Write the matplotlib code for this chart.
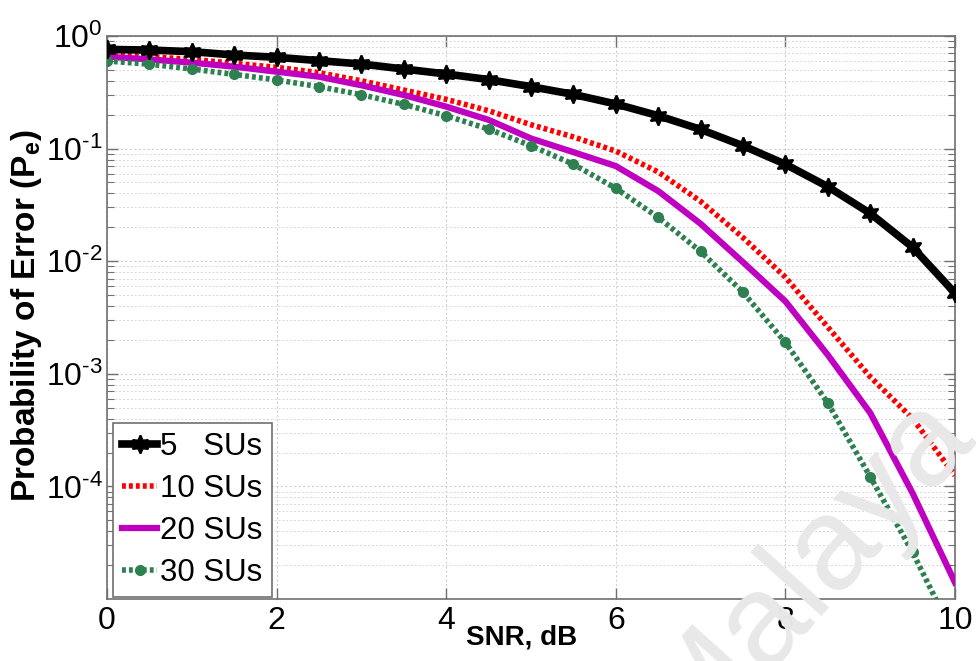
import numpy as np
import matplotlib
matplotlib.use("Agg")
import matplotlib.pyplot as plt
from matplotlib.ticker import LogLocator, FixedLocator, FixedFormatter, NullFormatter

plt.rcParams['font.family'] = ['Liberation Sans', 'DejaVu Sans']
plt.rcParams['mathtext.fontset'] = 'custom'
plt.rcParams['mathtext.rm'] = 'Liberation Sans'
plt.rcParams['mathtext.bf'] = 'Liberation Sans:bold'

# ---------------- data ----------------
snr_db = [0, 0.5, 1, 1.5, 2, 2.5, 3, 3.5, 4, 4.5, 5, 5.5, 6, 6.5, 7, 7.5, 8, 8.5, 9, 9.5, 10]
pe_5 = [0.76, 0.75, 0.726, 0.678, 0.647, 0.604, 0.564, 0.509, 0.46, 0.41, 0.355, 0.303,
        0.249, 0.196, 0.148, 0.106, 0.0726, 0.0459, 0.0266, 0.0133, 0.0052]
pe_10 = [0.69, 0.655, 0.62, 0.572, 0.527, 0.472, 0.40, 0.331, 0.274, 0.217, 0.163, 0.127,
         0.095, 0.062, 0.034, 0.0162, 0.0072, 0.0026, 9.4e-4, 4.0e-4, 1.25e-4]
pe_20 = [0.655, 0.62, 0.58, 0.534, 0.482, 0.435, 0.365, 0.299, 0.236, 0.18, 0.123, 0.093,
         0.07, 0.042, 0.0215, 0.0098, 0.0044, 1.47e-3, 4.5e-4, 8.7e-5, 1.4e-5]
pe_30 = [0.60, 0.562, 0.509, 0.456, 0.407, 0.355, 0.301, 0.247, 0.196, 0.149, 0.106, 0.0726,
         0.0444, 0.0245, 0.0122, 0.0053, 0.0019, 5.5e-4, 1.22e-4, 2.6e-5, 4.5e-6]
labels = ["5   SUs", "10 SUs", "20 SUs", "30 SUs"]
x_ticks = [0, 2, 4, 6, 8, 10]
y_ticks = [1e0, 1e-1, 1e-2, 1e-3, 1e-4]
y_tick_labels = [r'$\mathdefault{10^{0}}$', r'$\mathdefault{10^{\text{-}1}}$',
                 r'$\mathdefault{10^{\text{-}2}}$', r'$\mathdefault{10^{\text{-}3}}$',
                 r'$\mathdefault{10^{\text{-}4}}$']

# ---------------- figure ----------------
W, H = 976, 661
fig = plt.figure(figsize=(W / 100, H / 100), dpi=100)
L, R, T, B = 107, 955, 36, 599
ax = fig.add_axes([L / W, 1 - B / H, (R - L) / W, (B - T) / H])

ax.plot(snr_db, pe_5, color='black', lw=5.5, marker=(6, 1, 0), ms=13, mew=1.5,
        label=labels[0], zorder=5)
ax.plot(snr_db, pe_10, color='#ff0000', lw=4, dashes=(0.7, 0.55), dash_capstyle='butt',
        label=labels[1], zorder=4)
ax.plot(snr_db, pe_20, color='#c000c0', lw=4.5, label=labels[2], zorder=4)
ax.plot(snr_db, pe_30, color='#2e8050', lw=4, dashes=(0.7, 0.55), dash_capstyle='butt',
        marker='o', ms=7, label=labels[3], zorder=4)

ax.set_yscale('log')
ax.set_xlim(0, 10)
ax.set_ylim(1e-5, 1)
ax.xaxis.set_major_locator(FixedLocator(x_ticks))
ax.yaxis.set_major_locator(FixedLocator(y_ticks))
ax.yaxis.set_major_formatter(FixedFormatter(y_tick_labels))
ax.yaxis.set_minor_locator(LogLocator(base=10, subs=np.arange(2, 10), numticks=20))
ax.yaxis.set_minor_formatter(NullFormatter())

ax.grid(True, which='major', axis='both', color='#d0d0d0', ls=(0, (2, 2)), lw=0.8)
ax.grid(True, which='minor', axis='y', color='#d8d8d8', ls=(0, (2, 2)), lw=0.7)
ax.set_axisbelow(True)

for s in ax.spines.values():
    s.set_color('#707070')
    s.set_linewidth(1.2)
ax.tick_params(which='both', direction='in', top=True, right=True, colors='#707070',
               labelcolor='black', labelsize=23)
ax.tick_params(which='major', length=8, width=1)
ax.tick_params(which='minor', length=5, width=0.8)
ax.tick_params(axis='x', pad=5)
ax.tick_params(axis='y', pad=3)

# x label placed as in the reference
ax.set_xlabel('SNR, dB', fontsize=20, fontweight='bold')
ax.xaxis.set_label_coords((522 - L) / (R - L), -0.046)
ax.xaxis.label.set_va('top')

fig.text(27 / W, 1 - 316 / H, 'Probability of Error (P$_\\mathbf{e}$)', rotation=90,
         ha='center', va='center', fontsize=24, fontweight='bold')

leg = ax.legend(loc='lower left', bbox_to_anchor=(6 / (R - L), 2 / (B - T)),
                borderaxespad=0, fontsize=22.5, handlelength=1.1, handletextpad=0.1,
                labelspacing=0.38, borderpad=0.3, fancybox=False, framealpha=1,
                edgecolor='#707070')
leg.get_frame().set_linewidth(1.2)

# watermark
fig.text(690 / W, 1 - 751 / H, 'Malaya', rotation=48, rotation_mode='anchor',
         ha='left', va='baseline', fontsize=95, color='#e8e8e8', zorder=0.5)

fig.savefig('out.png', dpi=100)
